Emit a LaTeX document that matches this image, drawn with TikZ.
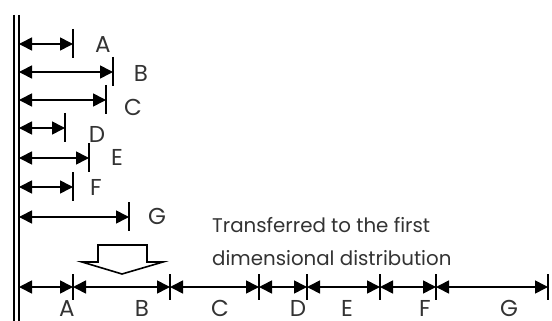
\documentclass[tikz,border=0pt]{standalone}
\usepackage{fontspec}
\setmainfont{Poppins}
\usetikzlibrary{arrows.meta}
\begin{document}
\begin{tikzpicture}[x=1pt,y=-1pt,
  dim/.style={line width=1.6pt,{Triangle[length=13pt,width=13pt]}-{Triangle[length=13pt,width=13pt]}},
  tick/.style={line width=1.6pt},
  wall/.style={line width=2.6pt},
  lbl/.style={font=\fontsize{23}{33}\selectfont\color{black!80}, inner sep=0pt},
  txtstyle/.style={font=\fontsize{19.8}{33}\selectfont\color{black!80}, inner sep=0pt},
  bigarrow/.style={line width=1.6pt, fill=white, line join=miter}]
\useasboundingbox (0,0) rectangle (552,321);
% wall
\coordinate (w1t) at (14,15); \coordinate (w1b) at (14,321);
\coordinate (w2t) at (19,15); \coordinate (w2b) at (19,321);
\draw[wall] (w1t) -- (w1b);
\draw[wall] (w2t) -- (w2b);
% rows
\foreach \n/\x/\y/\lx/\ly in {A/73/44/103/45, B/113/72/141/73, C/106/100/133/107, D/65/128/97/134, E/89/158/117/157, F/73/187/96/187, G/129/217/157/216}{
  \coordinate (s\n) at (19,\y);
  \coordinate (e\n) at (\x,\y);
  \coordinate (t\n1) at (\x,\y-15);
  \coordinate (t\n2) at (\x,\y+14);
  \draw[dim] (s\n) -- (e\n);
  \draw[tick] (t\n1) -- (t\n2);
  \node[lbl] (l\n) at (\lx,\ly) {\n};
}
% bottom line
\coordinate (b0) at (19,287);
\foreach \i/\x in {1/73,2/170,3/259,4/307,5/380,6/436,7/548}{
  \coordinate (b\i) at (\x,287);
  \coordinate (bt\i) at (\x,274);
  \coordinate (bb\i) at (\x,300);
  \draw[tick] (bt\i) -- (bb\i);
}
\foreach \a/\b in {0/1,1/2,2/3,3/4,4/5,5/6,6/7}{
  \draw[dim] (b\a) -- (b\b);
}
\foreach \n/\x in {A/67,B/142,C/220,D/298,E/347,F/425,G/509}{
  \node[lbl, anchor=base] (m\n) at (\x,316) {\n};
}
% hollow arrow
\draw[bigarrow] (98,245) -- (147,245) -- (147,262) -- (163,262) -- (122,274) -- (82,262) -- (98,262) -- cycle;
% text
\node[txtstyle, align=left, anchor=base west] (txt) at (212,265) {Transferred to the first\\dimensional distribution};
\end{tikzpicture}
\end{document}
